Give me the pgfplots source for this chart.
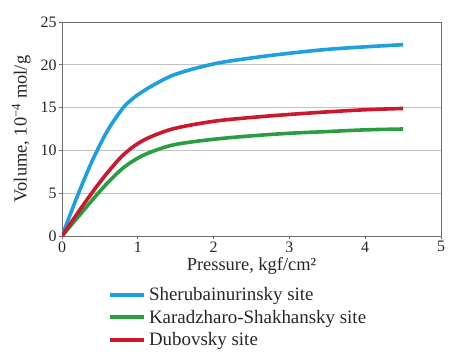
\documentclass[border=0pt]{standalone}
\usepackage{fontspec}
\setmainfont{Liberation Serif}
\usepackage{pgfplots}
\pgfplotsset{compat=1.18}
\definecolor{cblue}{RGB}{30,160,222}
\definecolor{cgreen}{RGB}{40,158,62}
\definecolor{cred}{RGB}{204,24,44}
\definecolor{cgrid}{RGB}{195,195,195}
\definecolor{cframe}{RGB}{110,110,110}
\begin{document}
\begin{tikzpicture}[x=1bp,y=1bp]
\path[use as bounding box] (0,0) rectangle (453,357);
\begin{axis}[
  at={(62bp,121bp)}, anchor=south west,
  scale only axis, width=379bp, height=214bp,
  xmin=0, xmax=5, ymin=0, ymax=25,
  xtick={0,1,2,3,4,5}, ytick={0,5,10,15,20,25},
  ymajorgrids, grid style={cgrid, line width=0.8pt},
  axis line style={cframe, line width=0.8pt},
  tick style={cframe, line width=0.8pt},
  tick align=outside, major tick length=3bp,
  xtick pos=bottom, ytick pos=left,
  /pgf/number format/assume math mode=true,
  ticklabel style={font=\fontsize{16}{16}\selectfont, text=black!85},
  xticklabel style={yshift=1bp},
  yticklabel style={xshift=1bp},
  label style={font=\fontsize{18.5}{19}\selectfont, text=black!85},
  xlabel={Pressure, kgf/cm²},
  ylabel={Volume, 10\textsuperscript{−4} mol/g},
  xlabel style={yshift=2bp},
  ylabel style={yshift=3bp},
  legend style={draw=none, fill=none, at={(0.121,-0.228)}, anchor=north west,
    font=\fontsize{19}{19}\selectfont, text=black!85,
    inner sep=0pt, row sep=3.5bp,
    nodes={inner xsep=3bp, inner ysep=2.3bp}},
  legend cell align=left,
  legend image code/.code={\draw[#1, line width=4bp] (0bp,0bp) -- (34bp,0bp);},
  every axis plot/.append style={line width=3.6bp, smooth, tension=0.55},
]
\addplot[cblue] coordinates {
(0,0) (0.2,4.6) (0.4,8.8) (0.6,12.3) (0.8,14.9) (0.9,15.8) (1.0,16.5) (1.2,17.6)
(1.5,18.9) (2,20.1) (2.5,20.8) (3,21.35) (3.5,21.8) (4,22.1) (4.5,22.35)};
\addlegendentry{Sherubainurinsky site}
\addplot[cgreen] coordinates {
(0,0) (0.2,2.1) (0.4,4.2) (0.6,6.2) (0.8,7.9) (1.0,9.1) (1.2,9.9)
(1.5,10.7) (2,11.3) (2.5,11.7) (3,12.0) (3.5,12.2) (4,12.4) (4.5,12.5)};
\addlegendentry{Karadzharo-Shakhansky site}
\addplot[cred] coordinates {
(0,0) (0.2,2.6) (0.4,5.1) (0.6,7.4) (0.8,9.4) (1.0,10.8) (1.2,11.7)
(1.5,12.6) (2,13.4) (2.5,13.85) (3,14.2) (3.5,14.5) (4,14.75) (4.5,14.9)};
\addlegendentry{Dubovsky site}
\end{axis}
\end{tikzpicture}
\end{document}
